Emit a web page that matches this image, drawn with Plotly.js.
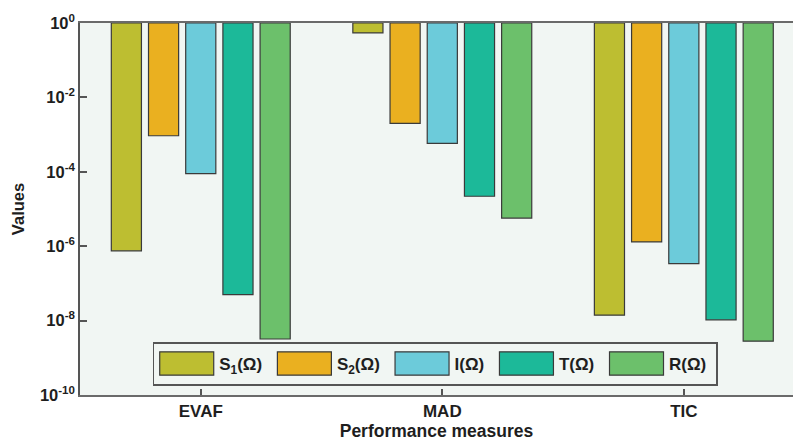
<!DOCTYPE html>
<html>
<head>
<meta charset="utf-8">
<script src="https://cdn.plot.ly/plotly-3.0.1.min.js"></script>
<style>
html, body { margin: 0; padding: 0; overflow: hidden; background: #ffffff; }
#chart { width: 793px; height: 445px; }
</style>
</head>
<body>
<div id="chart"></div>
<script>
// ---- data ----
const categories = ['EVAF', 'MAD', 'TIC'];
const seriesNames = ['S<sub>1</sub>(Ω)', 'S<sub>2</sub>(Ω)', 'I(Ω)', 'T(Ω)', 'R(Ω)'];
const s1Values = [7.5e-7, 0.54, 1.4e-8];
const s2Values = [9.3e-4, 2.0e-3, 1.3e-6];
const iValues = [8.9e-5, 5.8e-4, 3.4e-7];
const tValues = [5.0e-8, 2.2e-5, 1.05e-8];
const rValues = [3.2e-9, 5.7e-6, 2.8e-9];
const yTickVals = [1, 1e-2, 1e-4, 1e-6, 1e-8, 1e-10];
const yTickText = ['10<sup>0</sup>', '10<sup>-2</sup>', '10<sup>-4</sup>', '10<sup>-6</sup>', '10<sup>-8</sup>', '10<sup>-10</sup>'];
const colors = ['#BDBE31', '#EAB020', '#6CCBDA', '#1CB999', '#6CC06B'];

const allSeries = [s1Values, s2Values, iValues, tValues, rValues];
const FONT = '"Liberation Sans", Arial, sans-serif';
const TXT = '#1e1e1e';

// bars hang from the top of the axis (10^0) down to the value
const traces = allSeries.map((vals, i) => ({
  type: 'bar',
  name: seriesNames[i] + '\u00A0',
  x: categories,
  base: vals,
  y: vals.map(v => 1 - v),
  marker: { color: colors[i], line: { color: '#3a3a3a', width: 1.2 } },
  hoverinfo: 'skip'
}));

const layout = {
  width: 793,
  height: 445,
  margin: { l: 80, r: 0, t: 23, b: 50 },
  paper_bgcolor: '#ffffff',
  plot_bgcolor: '#F1F6F3',
  font: { family: FONT, size: 17, color: TXT, weight: 'bold' },
  barmode: 'group',
  bargap: 0.23,
  bargroupgap: 0.19,
  showlegend: true,
  legend: {
    orientation: 'h',
    x: 0.102, xanchor: 'left',
    y: 0.031, yanchor: 'bottom',
    bgcolor: '#F1F6F3',
    bordercolor: '#555555',
    borderwidth: 1.5,
    itemwidth: 55,
    font: { family: FONT, size: 17, color: TXT, weight: 'bold' },
    traceorder: 'normal'
  },
  xaxis: {
    type: 'category',
    range: [-0.5, 2.452],
    showline: true, mirror: true, linecolor: '#6a6a6a', linewidth: 2,
    ticks: 'inside', ticklen: 6, tickcolor: '#555555', tickwidth: 1.5,
    showgrid: false, zeroline: false,
    tickfont: { family: FONT, size: 17, color: TXT, weight: 'bold' },
    title: { text: 'Performance measures', standoff: 4, font: { family: FONT, size: 17.5, color: TXT, weight: 'bold' } }
  },
  yaxis: {
    type: 'log',
    range: [-10, 0],
    tickvals: yTickVals,
    ticktext: yTickText,
    showline: true, linecolor: '#555555', linewidth: 1.5,
    ticks: 'inside', ticklen: 7, tickcolor: '#555555', tickwidth: 1.5,
    showgrid: false, zeroline: false,
    tickfont: { family: FONT, size: 16.5, color: TXT, weight: 'bold' },
    title: { text: 'Values', standoff: 11, font: { family: FONT, size: 16.5, color: TXT, weight: 'bold' } }
  }
};

Plotly.newPlot('chart', traces, layout, { displayModeBar: false }).then(() => {
  // enlarge the legend colour swatches to match the wide rectangles in the original
  document.querySelectorAll('.legend .legendpoints path').forEach(p => {
    p.setAttribute('d', 'M27,11.7H-27V-11.7H27Z');
  });
  // make the legend frame as tall as in the original, keeping its centre
  const bg = document.querySelector('.legend rect.bg');
  if (bg) {
    const h = parseFloat(bg.getAttribute('height'));
    const y = parseFloat(bg.getAttribute('y') || 0);
    const target = 42;
    if (h < target) {
      bg.setAttribute('y', y - (target - h) / 2);
      bg.setAttribute('height', target);
    }
  }
});
</script>
</body>
</html>
